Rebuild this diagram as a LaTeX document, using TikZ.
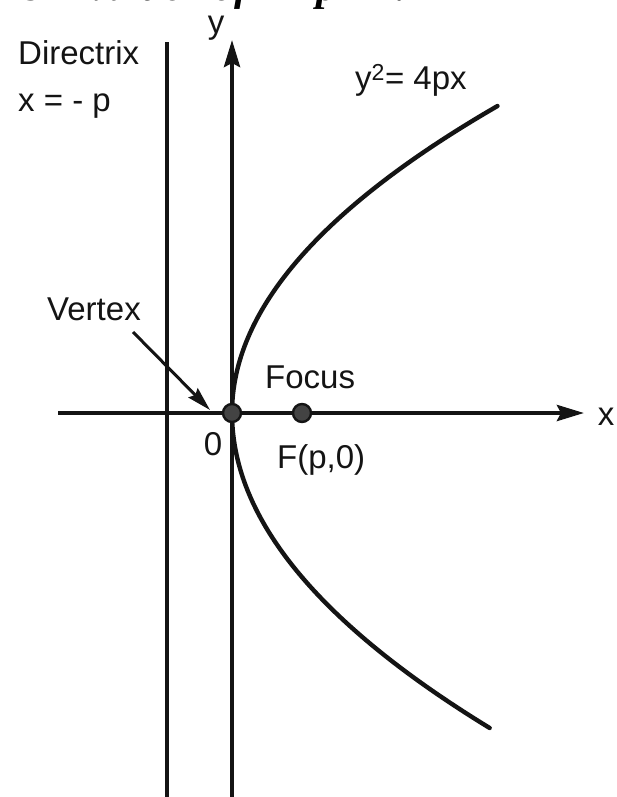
\documentclass[tikz,border=0pt]{standalone}
\usepackage{fontspec}
\setmainfont{Liberation Sans}
\newfontfamily\headfont{Liberation Serif}
\usetikzlibrary{arrows.meta}
\definecolor{ink}{RGB}{20,20,20}
\tikzset{
  >={Stealth[length=27pt,width=16pt,inset=4pt]},
  axis/.style={line width=4.2pt,draw=ink},
  curve/.style={line width=4.4pt,draw=ink,line cap=round},
  lbl/.style={inner sep=0pt,font=\fontsize{33}{36}\selectfont,text=ink},
  dot/.style={circle,fill=ink!80,draw=ink,line width=2.4pt,minimum size=18pt,inner sep=0pt},
  pointer/.style={-{Stealth[length=24pt,width=13pt,inset=3pt]},line width=3pt,draw=ink},
}
\begin{document}
\begin{tikzpicture}[x=1pt,y=-1pt]
  \useasboundingbox (0,0) rectangle (617,797);
  \clip (0,0) rectangle (617,797);
  \fill[white] (0,0) rectangle (617,797);
  % cut-off line of the page above
  \node[inner sep=0pt,anchor=base west,font=\headfont\bfseries\fontsize{42}{46}\selectfont] (head) at (0,1)
    {ns\hspace{50pt}\textit{value}\hspace{30pt}\textit{of}\hspace{65pt}\textit{p}\hspace{53pt}?};
  % directrix and axes
  \coordinate (db) at (167,800);
  \coordinate (dt) at (167,42);
  \coordinate (xl) at (58,413);
  \coordinate (xr) at (584,413);
  \coordinate (yb) at (232,800);
  \coordinate (yt) at (232,40);
  \draw[axis] (db) -- (dt);
  \draw[axis,->] (xl) -- (xr);
  \draw[axis,->] (yb) -- (yt);
  % parabola
  \draw[curve] plot[domain=3.07:0,samples=40,smooth] ({232+28.17*\x*\x},{413-100*\x})
    -- plot[domain=0:3.15,samples=40,smooth] ({232+25.97*\x*\x},{413+100*\x});
  \node[dot] (O) at (232,413) {};
  \node[dot] (F) at (302,413) {};
  % labels
  \node[lbl,anchor=base west] (dirname) at (18,65) {Directrix};
  \node[lbl,anchor=base west] (direq) at (18,112) {x = - p};
  \node[lbl,anchor=base] (ylab) at (216,34) {y};
  \node[lbl,anchor=base west] (eq) at (355,90) {y\textsuperscript{2}= 4px};
  \node[lbl,anchor=base west] (vert) at (47,320) {Vertex};
  \node[lbl,anchor=base west] (foc) at (265,388) {Focus};
  \node[lbl,anchor=base] (zero) at (213,455) {0};
  \node[lbl,anchor=base west] (flab) at (277,468) {F(p,0)};
  \node[lbl,anchor=base] (xlab) at (606,425) {x};
  \coordinate (vtail) at (133,332);
  \coordinate (vtip) at (210,410);
  \draw[pointer] (vtail) -- (vtip);
\end{tikzpicture}
\end{document}
